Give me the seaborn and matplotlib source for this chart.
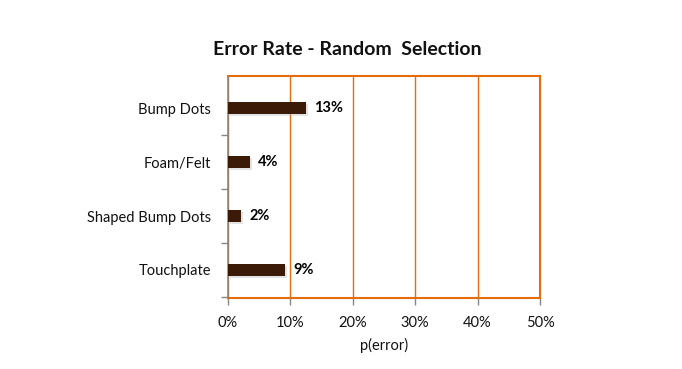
import matplotlib
matplotlib.use("Agg")
import matplotlib.pyplot as plt
import matplotlib.patheffects as pe
import seaborn as sns
import pandas as pd
from matplotlib.ticker import FixedLocator, PercentFormatter

categories = ["Bump Dots", "Foam/Felt", "Shaped Bump Dots", "Touchplate"]
error_pct = [12.5, 3.5, 2.1, 9.1]
value_labels = ["13%", "4%", "2%", "9%"]
x_ticks = [0, 10, 20, 30, 40, 50]

sns.set_theme(style="white")
plt.rcParams['font.family'] = ['Lato', 'DejaVu Sans']

df = pd.DataFrame({"category": categories, "error": error_pct})

fig = plt.figure(figsize=(6.82, 3.69), dpi=100)
ax = fig.add_axes([0.3343, 0.1924, 0.4575, 0.6016])

ORANGE = "#e46c0a"
GRAY = "#868686"
BAR = "#3b1a08"

sns.barplot(data=df, y="category", x="error", orient="h", color=BAR,
            width=0.22, ax=ax, zorder=3, saturation=1)
for p in ax.patches:
    p.set_path_effects([pe.SimplePatchShadow(offset=(1.5, -1.5), shadow_rgbFace="#b0b0b0", alpha=0.35), pe.Normal()])
    p.set_edgecolor("none")

ax.set_xlim(0, 50)
ax.set_ylim(3.52, -0.6)
ax.set_xticks(x_ticks)
ax.xaxis.set_major_formatter(PercentFormatter(decimals=0))
ax.grid(axis="x", color=ORANGE, linewidth=1.0, zorder=0)
ax.set_axisbelow(True)

for i, (v, lab) in enumerate(zip(error_pct, value_labels)):
    ax.annotate(lab, xy=(v, i), xytext=(6, 0), textcoords="offset points",
                va="center", ha="left", fontsize=10.5, fontweight="bold", color="black")

for s in ["top", "right", "bottom"]:
    ax.spines[s].set_color(ORANGE)
    ax.spines[s].set_linewidth(1.5)
ax.spines["left"].set_color(GRAY)
ax.spines["left"].set_linewidth(1.2)

ax.yaxis.set_minor_locator(FixedLocator([0.5, 1.5, 2.5, 3.5]))
ax.tick_params(axis="y", which="major", length=0, pad=12, labelsize=10.5, labelcolor="#111111")
ax.tick_params(axis="y", which="minor", length=5, width=1, color=GRAY, left=True, direction="out")
ax.tick_params(axis="x", which="major", length=5, width=1, color=GRAY, bottom=True,
               direction="out", pad=8, labelsize=10.5, labelcolor="#111111")

ax.set_ylabel("")
ax.set_xlabel("p(error)", fontsize=10.5, color="#111111", labelpad=6)

fig.text(0.509, 0.865, "Error Rate - Random  Selection", ha="center", va="center",
         fontsize=14, fontweight="bold", color="#111111")

fig.savefig("out.png", dpi=100)
